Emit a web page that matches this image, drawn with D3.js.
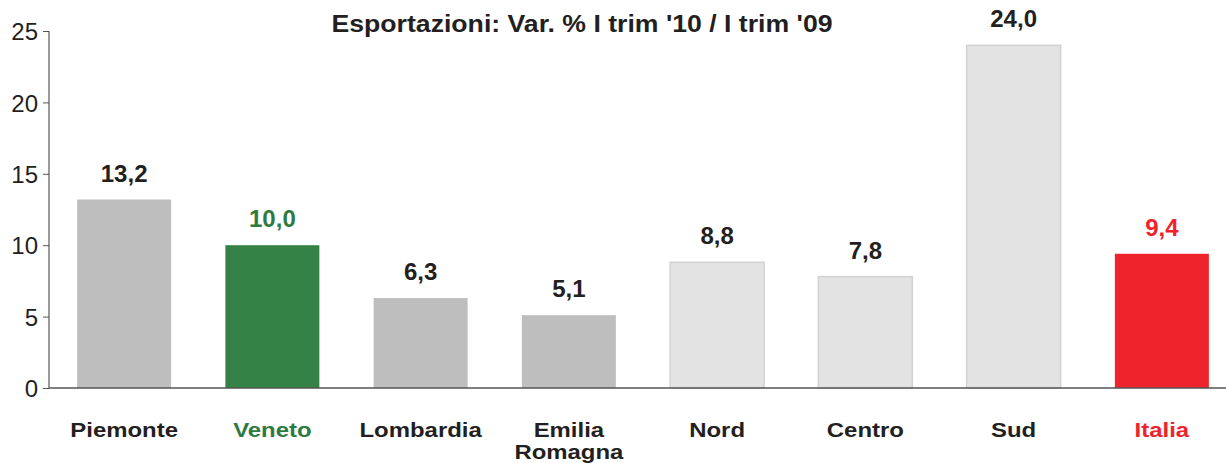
<!DOCTYPE html>
<html><head><meta charset="utf-8">
<script src="https://cdn.jsdelivr.net/npm/d3@7"></script>
<style>body{margin:0;background:#fff;} svg{display:block;font-family:"Liberation Sans",Arial,sans-serif;}</style>
</head><body><svg id="c" width="1226" height="463"></svg>
<script>
const categories = ["Piemonte","Veneto","Lombardia","Emilia Romagna","Nord","Centro","Sud","Italia"];
const values = [13.2,10.0,6.3,5.1,8.8,7.8,24.0,9.4];
const barColors = ["#bebebe","#358246","#bebebe","#bebebe","#e3e3e3","#e3e3e3","#e3e3e3","#ee232b"];
const labelColors = ["#231f20","#2f7a40","#231f20","#231f20","#231f20","#231f20","#231f20","#ee232b"];
const yTicks = [0,5,10,15,20,25];
const title = "Esportazioni: Var. % I trim '10 / I trim '09";

const svg = d3.select("#c");
const x = d3.scaleBand().domain(categories).range([50,1236]).paddingInner(0.366).paddingOuter(0.183);
const y = d3.scaleLinear().domain([0,25]).range([388,31]);

svg.append("text").attr("transform","translate(582,32) scale(1.11,1)").attr("text-anchor","middle")
  .attr("font-size",24).attr("font-weight","bold")
  .attr("fill","#231f20").text(title);

svg.selectAll("rect.bar").data(values).join("rect").attr("class","bar")
  .attr("x",(d,i)=>x(categories[i])).attr("width",x.bandwidth())
  .attr("y",d=>y(d)).attr("height",d=>y(0)-y(d))
  .attr("fill",(d,i)=>barColors[i])
  .attr("stroke",(d,i)=>barColors[i]==="#e3e3e3"?"#d2d2d2":"none").attr("stroke-width",1.5);

svg.selectAll("text.val").data(values).join("text").attr("class","val")
  .attr("x",(d,i)=>x(categories[i])+x.bandwidth()/2).attr("y",d=>y(d)-18)
  .attr("text-anchor","middle").attr("font-size",24).attr("font-weight","bold")
  .attr("fill",(d,i)=>labelColors[i]).text(d=>d.toFixed(1).replace(".",","));

// y axis
const ya = svg.append("g").attr("transform","translate(49,0)")
  .call(d3.axisLeft(y).tickValues(yTicks).tickSize(6).tickPadding(5));
ya.select(".domain").attr("stroke","#555").attr("stroke-width",1.2).attr("d","M0,31V388");
ya.selectAll(".tick line").attr("stroke","#555");
ya.selectAll(".tick text").attr("font-size",24).attr("fill","#231f20").attr("font-family","'Liberation Sans',Arial,sans-serif").attr("dy","0.36em");

// x axis
const xa = svg.append("g").attr("transform","translate(0,388)")
  .call(d3.axisBottom(x).tickSize(0).tickPadding(0));
xa.select(".domain").attr("stroke","#555").attr("stroke-width",1.5).attr("d","M49,0H1226");
xa.selectAll(".tick text").remove();
xa.selectAll(".tick").each(function(d,i){
  const g = d3.select(this);
  const parts = d.split(" ");
  parts.forEach((p,j)=>g.append("text").attr("text-anchor","middle")
    .attr("font-size",21).attr("font-weight","bold")
    .attr("transform",`translate(0,${49+j*22}) scale(1.14,1)`)
    .attr("fill",labelColors[i]).attr("font-family","'Liberation Sans',Arial,sans-serif")
    .text(p));
});
</script></body></html>
